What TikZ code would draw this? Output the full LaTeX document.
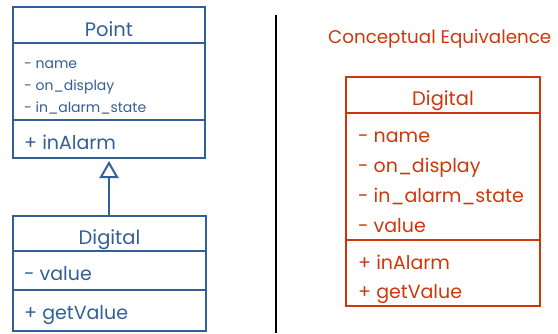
\documentclass[tikz,border=0pt]{standalone}
\usepackage{fontspec}
\setmainfont{Poppins}
\usetikzlibrary{arrows.meta}
\definecolor{umlblue}{RGB}{50,95,150}
\definecolor{umlred}{RGB}{205,55,10}
\tikzset{
  bluebox/.style={draw=umlblue, line width=2pt, rectangle, inner sep=0pt},
  redbox/.style={draw=umlred, line width=2.5pt, rectangle, inner sep=0pt},
  bluetxt/.style={text=umlblue, anchor=base west, inner sep=0pt},
  redtxt/.style={text=umlred, anchor=base west, inner sep=0pt},
  title/.style={anchor=base, inner sep=0pt, font=\fontsize{19.5}{21}\selectfont},
  small/.style={font=\fontsize{14}{16}\selectfont},
  big/.style={font=\fontsize{19}{21}\selectfont},
}
\begin{document}
\begin{tikzpicture}[x=1pt,y=-1pt]
\useasboundingbox (0,0) rectangle (558,333);
% left: Point
\node[bluebox, minimum width=192pt, minimum height=151pt] (point) at (109,82.5) {};
\draw[umlblue, line width=2pt] (13,43) coordinate (pa) -- (205,43) coordinate (pb);
\draw[umlblue, line width=2pt] (13,120) coordinate (pc) -- (205,120) coordinate (pd);
\node[title, text=umlblue] (ptitle) at (109,36) {Point};
\node[bluetxt, small] (pname) at (24,68) {- name};
\node[bluetxt, small] (pdisp) at (24,90) {- on\_display};
\node[bluetxt, small] (palarm) at (24,112) {- in\_alarm\_state};
\node[bluetxt, big] (pin) at (24,149) {+ inAlarm};
% left: Digital
\node[bluebox, minimum width=193pt, minimum height=115pt] (dig) at (109.5,273.5) {};
\draw[umlblue, line width=2pt] (13,251) coordinate (da) -- (206,251) coordinate (db);
\draw[umlblue, line width=2pt] (13,290) coordinate (dc) -- (206,290) coordinate (dd);
\node[title, text=umlblue] (dtitle) at (109.5,244) {Digital};
\node[bluetxt, big] (dval) at (24,280) {- value};
\node[bluetxt, big] (dget) at (24,319) {+ getValue};
% generalization
\draw[umlblue, line width=2pt, -{Triangle[open, length=17pt, width=19pt, line width=2pt]}, shorten >=2pt] (dig.north -| ptitle) -- (point.south -| ptitle);
% separator
\coordinate (s1) at (276,15);
\coordinate (s2) at (276,333);
\draw[black, line width=2.5pt] (s1) -- (s2);
% right
\node[redtxt, font=\fontsize{18.3}{20}\selectfont] (cetitle) at (328,43) {Conceptual Equivalence};
\node[redbox, minimum width=194pt, minimum height=229pt] (rdig) at (443,191.5) {};
\draw[umlred, line width=2.5pt] (346,113) coordinate (ra) -- (540,113) coordinate (rb);
\draw[umlred, line width=2.5pt] (346,240) coordinate (rc) -- (540,240) coordinate (rd);
\node[title, text=umlred] (rtitle) at (443,105) {Digital};
\node[redtxt, big] (rname) at (358,142) {- name};
\node[redtxt, big] (rdisp) at (358,172) {- on\_display};
\node[redtxt, big] (ralarm) at (358,202) {- in\_alarm\_state};
\node[redtxt, big] (rval) at (358,232) {- value};
\node[redtxt, big] (rin) at (358,269) {+ inAlarm};
\node[redtxt, big] (rget) at (358,298) {+ getValue};
\end{tikzpicture}
\end{document}
